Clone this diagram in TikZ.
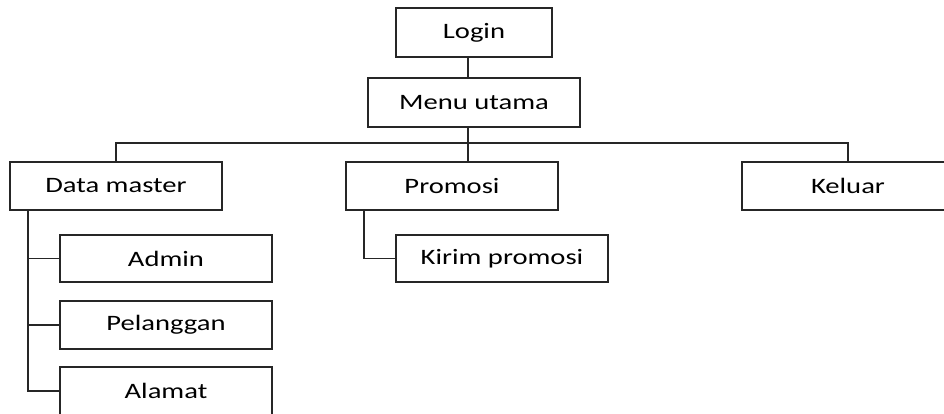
\documentclass[tikz,border=0pt]{standalone}
\usepackage{fontspec}
\setmainfont{Carlito}[FakeStretch=1.3]
\usetikzlibrary{positioning}

\begin{document}
\begin{tikzpicture}[
  x=1pt, y=1pt,
  box/.style={draw=black!85, line width=1.8pt, minimum width=212pt, minimum height=48pt,
    inner sep=0pt, font=\fontsize{22}{26}\selectfont},
  link/.style={draw=black!85, line width=1.8pt}
]
\useasboundingbox (0,0) rectangle (944,-414);
\clip (0,0) rectangle (944,-414);

% top of the menu tree
\node[box, minimum width=156pt, minimum height=49pt] (login) at (474,-32.5) {Login};
\node[box, minimum height=49pt] (menu) at (474,-102.5) {Menu utama};

% main menu items
\node[box] (master) at (116,-186) {Data master};
\node[box] (promosi) at (452,-186) {Promosi};
\node[box] (keluar) at (848,-186) {Keluar};

% sub items
\node[box, minimum height=47pt] (admin) at (166,-258.5) {Admin};
\node[box] (pelanggan) at (166,-325) {Pelanggan};
\node[box] (alamat) at (166,-391) {Alamat};
\node[box, minimum height=47pt] (kirim) at (502,-258.5) {Kirim promosi};

\coordinate (bus) at (468,-143);

\draw[link] (login.south -| bus) -- (menu.north -| bus);
\draw[link] (menu.south -| bus) -- (bus) -- (promosi.north -| bus);
\draw[link] (master.north) |- (bus) -| (keluar.north);

% data master branch
\coordinate (mtrunk) at (28,-210);
\draw[link] (mtrunk) |- (admin.west);
\draw[link] (mtrunk) |- (pelanggan.west);
\draw[link] (mtrunk) |- (alamat.west);

% promosi branch
\coordinate (ptrunk) at (364,-210);
\draw[link] (ptrunk) |- (kirim.west);
\end{tikzpicture}
\end{document}
